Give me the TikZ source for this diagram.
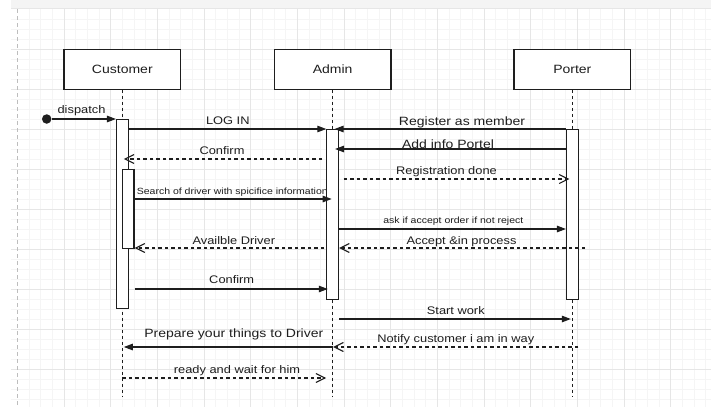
\documentclass[tikz,border=0pt]{standalone}
\usepackage{fontspec}
\setmainfont{Liberation Sans}[FakeStretch=1.167]
\usetikzlibrary{arrows.meta,calc}
\definecolor{ink}{HTML}{1E1E1E}
\definecolor{gridminor}{HTML}{F5F5F5}
\definecolor{gridmajor}{HTML}{E6E6E6}
\definecolor{band}{HTML}{F4F4F4}
\definecolor{pageline}{HTML}{BDBDBD}
\begin{document}
\begin{tikzpicture}[x=1pt,y=-1pt,
  actor/.style={draw=ink, line width=1.2pt, fill=white, minimum width=116.7pt, minimum height=40pt, inner sep=0pt, font=\fontsize{12}{14}\selectfont, text=ink},
  actbar/.style={draw=ink, line width=1.1pt, fill=white, minimum width=11.67pt, inner sep=0pt, anchor=north},
  lifeline/.style={draw=ink, line width=1.1pt, dash pattern=on 3pt off 3pt},
  sync/.style={draw=ink, line width=1.1pt, -{Triangle[length=9pt,width=6.5pt]}},
  reply/.style={draw=ink, line width=1.1pt, dash pattern=on 3.5pt off 3pt, -{Straight Barb[length=9pt,width=9pt]}},
  lbl/.style={font=\fontsize{11}{13}\selectfont, anchor=base, inner sep=0pt, text=ink},
  lblbig/.style={lbl, font=\fontsize{12}{14}\selectfont},
  lblsmall/.style={lbl, font=\fontsize{9}{11}\selectfont},
  minorg/.style={draw=gridminor, line width=0.8pt},
  majorg/.style={draw=gridmajor, line width=0.8pt}
]
\useasboundingbox (0,0) rectangle (711,407);
\fill[white] (0,0) rectangle (711,407);
% grid
\foreach \i in {0,...,59} {
  \pgfmathtruncatemacro{\r}{mod(\i,4)}
  \ifnum\r=0\relax\else
    \draw[minorg] ({17.33+11.6667*\i},9) -- ({17.33+11.6667*\i},407);
  \fi
}
\foreach \j in {0,...,39} {
  \pgfmathtruncatemacro{\r}{mod(\j,4)}
  \ifnum\r=0\relax\else
    \draw[minorg] (11,{9.33+10*\j}) -- (711,{9.33+10*\j});
  \fi
}
\foreach \i in {1,...,14} {
  \draw[majorg] ({17.33+46.667*\i},9) -- ({17.33+46.667*\i},407);
}
\foreach \j in {1,...,9} {
  \draw[majorg] (11,{9.33+40*\j}) -- (711,{9.33+40*\j});
}
\fill[band] (11,0) rectangle (711,8.6);
\draw[draw=gridmajor, line width=0.8pt] (11,8.8) -- (711,8.8);
\draw[pageline, line width=0.8pt, dash pattern=on 4pt off 3pt] (17.33,9) -- (17.33,407);

% actors
\node[actor] (customer) at (122.33,69.3) {Customer};
\node[actor] (admin) at (332.67,69.3) {Admin};
\node[actor] (porter) at (572.33,69.3) {Porter};

\coordinate (custEnd) at (122.33,397);
\coordinate (adminEnd) at (332.67,397);
\coordinate (porterEnd) at (572.33,397);
\draw[lifeline] (customer.south) -- (custEnd);
\draw[lifeline] (admin.south) -- (adminEnd);
\draw[lifeline] (porter.south) -- (porterEnd);

% activation bars
\node[actbar, minimum height=189pt] (custAct) at (122.33,119) {};
\node[actbar, minimum height=79pt] (custAct2) at (128.17,169) {};
\node[actbar, minimum height=170pt] (adminAct) at (332.67,129) {};
\node[actbar, minimum height=170pt] (porterAct) at (572.33,129) {};

% message levels
\coordinate (m129) at (0,129);
\coordinate (m149) at (0,149);
\coordinate (m159) at (0,159);
\coordinate (m179) at (0,179);
\coordinate (m199) at (0,199);
\coordinate (m229) at (0,229);
\coordinate (m248) at (0,248);
\coordinate (m289) at (0,289);
\coordinate (m319) at (0,319);
\coordinate (m347) at (0,347);
\coordinate (m378) at (0,378);

% start
\node[circle, fill=ink, minimum size=9.5pt, inner sep=0pt] (start) at (46.7,119) {};
\draw[sync] (start) -- (custAct.north west);
\node[lbl] (tdispatch) at (81.5,113.5) {dispatch};

% messages
\draw[sync] (custAct.east |- m129) -- (adminAct.west |- m129);
\node[lbl] (tlogin) at (227.8,124) {LOG IN};

\draw[sync] (porterAct.west |- m129) -- ($(adminAct.east |- m129)+(-4.5,0)$);
\node[lblbig] (treg) at (462,125) {Register as member};

\draw[sync] (porterAct.west |- m149) -- ($(adminAct.east |- m149)+(-4,0)$);
\node[lblbig] (tadd) at (448,148) {Add info Portel};

\draw[reply] ($(adminAct.west |- m159)+(-4,0)$) -- ($(customer.south |- m159)+(1.5,0)$);
\node[lbl] (tconf1) at (222,154) {Confirm};

\draw[reply] ($(adminAct.east |- m179)+(4.5,0)$) -- ($(porterAct.west |- m179)+(3.5,0)$);
\node[lbl] (tregdone) at (446.5,174) {Registration done};

\draw[sync] (custAct2.east |- m199) -- ($(admin.south |- m199)+(-1,0)$);
\node[lblsmall] (tsearch) at (232.3,194) {Search of driver with spicifice information};

\draw[sync] (adminAct.east |- m229) -- (porterAct.west |- m229);
\node[lblsmall] (task) at (453.3,223.5) {ask if accept order if not reject};

\draw[reply] ($(porterAct.east |- m248)+(6.5,0)$) -- (adminAct.east |- m248);
\node[lbl] (taccept) at (461.5,244) {Accept \&in process};

\draw[reply] ($(adminAct.west |- m248)+(-2,0)$) -- (custAct2.east |- m248);
\node[lbl] (tavail) at (233.8,244) {Availble Driver};

\draw[sync] (custAct2.east |- m289) -- ($(adminAct.west |- m289)+(1.5,0)$);
\node[lbl] (tconf2) at (231.7,283.5) {Confirm};

\draw[sync] (adminAct.east |- m319) -- ($(porter.south |- m319)+(-1.5,0)$);
\node[lbl] (tstart) at (455.8,314) {Start work};

\draw[reply] ($(porter.south |- m347)+(6,0)$) -- ($(admin.south |- m347)+(0.5,0)$);
\node[lbl] (tnotify) at (455.8,342.5) {Notify customer i am in way};

\draw[sync] (admin.south |- m347) -- ($(customer.south |- m347)+(1.5,0)$);
\node[lblbig] (tprep) at (233.8,337.5) {Prepare your things to Driver};

\draw[reply] (customer.south |- m378) -- ($(admin.south |- m378)+(-6.5,0)$);
\node[lbl] (tready) at (237,373) {ready and wait for him};
\end{tikzpicture}
\end{document}
